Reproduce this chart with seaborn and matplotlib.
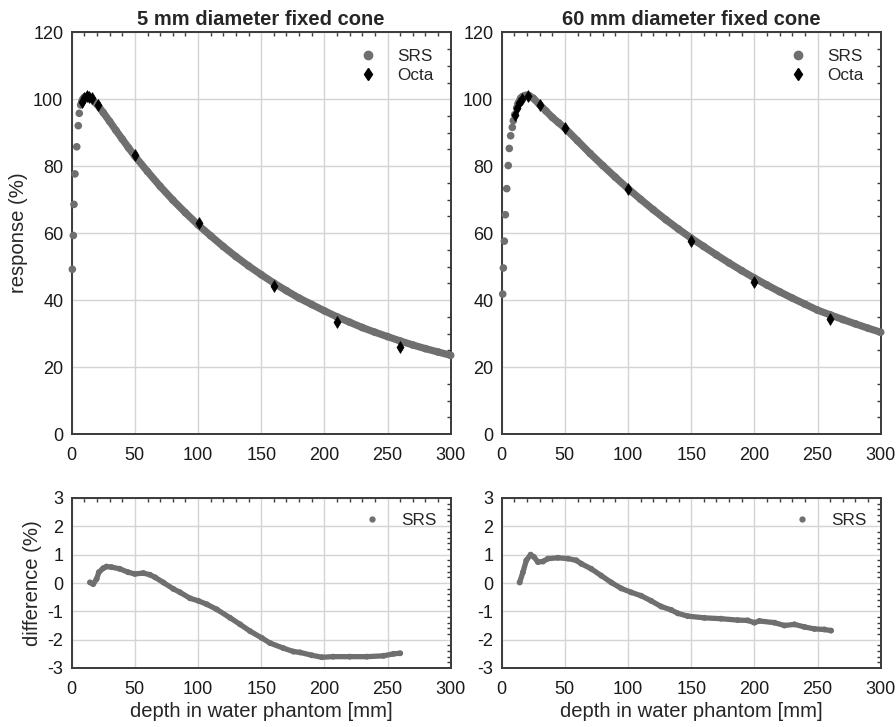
import matplotlib
matplotlib.use("Agg")
import matplotlib.pyplot as plt
from matplotlib.lines import Line2D
from matplotlib.ticker import MultipleLocator
import numpy as np
import pandas as pd
import seaborn as sns

# ---------------- data ----------------
srs5_depth = [0.5, 1.3, 1.8, 2.6, 4.0, 5.2, 6.0, 7.1, 8, 9, 10, 12, 14, 16, 18, 20,
              25, 30, 35, 40, 45, 50, 60, 70, 80, 90, 100, 110, 120, 130, 140, 150,
              160, 170, 180, 190, 200, 210, 220, 230, 240, 250, 260, 270, 280, 290, 300]
srs5_resp = [49.2, 59.3, 68.6, 77.7, 85.8, 92.1, 95.8, 98.3, 99.3, 100.1, 100.6, 100.9,
             100.6, 100.0, 99.2, 98.5, 96.0, 93.4, 90.7, 88.1, 85.5, 83.0, 78.4, 74.0,
             69.9, 66.1, 62.5, 59.2, 56.0, 53.0, 50.2, 47.6, 45.1, 42.8, 40.6, 38.7,
             36.8, 35.0, 33.4, 31.8, 30.4, 29.1, 27.8, 26.6, 25.5, 24.5, 23.5]
octa5_depth = [8, 10, 12, 14, 16, 21, 50, 101, 160, 210, 260]
octa5_resp = [99.3, 100.5, 101.0, 100.8, 100.3, 98.2, 83.3, 62.9, 44.3, 33.4, 26.0]

srs60_depth = [0.8, 1.3, 2.1, 2.9, 4.0, 5.2, 6.0, 7.1, 8.4, 9.2, 10.3, 11.9, 13.1, 15,
               16.5, 18.4, 20, 22, 25, 30, 35, 40, 45, 50, 60, 70, 80, 90, 100, 110,
               120, 130, 140, 150, 160, 170, 180, 190, 200, 210, 220, 230, 240, 250,
               260, 270, 280, 290, 300]
srs60_resp = [41.8, 49.6, 57.6, 65.5, 73.3, 80.2, 85.3, 89.1, 91.6, 93.6, 95.4, 97.3,
              98.8, 100.3, 100.8, 101.1, 101.2, 101.0, 100.3, 98.4, 96.5, 94.6, 93.0,
              91.4, 87.6, 83.8, 80.2, 76.7, 73.3, 70.1, 67.0, 64.0, 61.2, 58.5, 56.0,
              53.5, 51.1, 48.8, 46.6, 44.5, 42.5, 40.6, 38.8, 37.0, 35.6, 34.2, 32.9,
              31.6, 30.4]
octa60_depth = [10.5, 12, 14, 16, 20.6, 30, 50, 100, 150, 200, 260]
octa60_resp = [95.3, 97.5, 99.0, 100.0, 101.0, 98.2, 91.4, 73.3, 57.6, 45.4, 34.3]

diff5_depth = [14.5, 17, 19.7, 21.5, 24.9, 27.6, 31.5, 38, 44.7, 50, 56.7, 62, 66, 72.5,
               80.5, 85.8, 93.7, 100.3, 106.9, 114.8, 125.4, 133.3, 141.2, 150.5, 157,
               167.6, 175.5, 180.8, 190, 198, 207, 220, 233.6, 246.8, 254.7, 260]
diff5_val = [0.02, -0.04, 0.14, 0.38, 0.52, 0.58, 0.56, 0.50, 0.38, 0.32, 0.35, 0.29,
             0.20, 0.02, -0.21, -0.33, -0.54, -0.63, -0.75, -0.93, -1.23, -1.46, -1.70,
             -1.94, -2.12, -2.30, -2.42, -2.45, -2.55, -2.62, -2.60, -2.60, -2.60,
             -2.57, -2.50, -2.48]

diff60_depth = [14.2, 16.8, 19.5, 22.9, 25.5, 28.7, 32.7, 36.6, 44.5, 52.5, 59, 63, 70.9,
                78.8, 86.7, 94.6, 102.5, 110.4, 118.3, 126.2, 134.1, 139.4, 147.3, 160.5,
                173.6, 186.8, 194.7, 200, 204, 215.9, 223.8, 231.7, 239.6, 247.5, 255.4,
                260.7]
diff60_val = [0.02, 0.38, 0.80, 1.00, 0.92, 0.74, 0.76, 0.86, 0.89, 0.86, 0.80, 0.68,
              0.50, 0.26, 0.02, -0.19, -0.33, -0.45, -0.63, -0.83, -0.95, -1.07, -1.17,
              -1.23, -1.26, -1.31, -1.32, -1.40, -1.34, -1.40, -1.50, -1.46, -1.55,
              -1.62, -1.64, -1.68]

titles = ["5 mm diameter fixed cone", "60 mm diameter fixed cone"]
x_ticks = [0, 50, 100, 150, 200, 250, 300]
resp_ticks = [0, 20, 40, 60, 80, 100, 120]
diff_ticks = [-3, -2, -1, 0, 1, 2, 3]

# ---------------- style ----------------
sns.set_theme(style="white")
plt.rcParams["font.family"] = ["Liberation Sans", "DejaVu Sans"]
plt.rcParams["axes.unicode_minus"] = False

SRS_C = "#6f6f6f"
SPINE_C = "#3a3a3a"
GRID_C = "#d4d4d4"
LEG_FS = 12.3
LAB_FS = 14.6

fig = plt.figure(figsize=(8.96, 7.27), dpi=100)
W, H = 896.0, 727.0
lefts = [71.7, 501.7]
axw = 379.0
top_axes = [fig.add_axes([l / W, 1 - 434 / H, axw / W, (434 - 32.3) / H]) for l in lefts]
bot_axes = [fig.add_axes([l / W, 1 - 668 / H, axw / W, 170 / H]) for l in lefts]

srs_sets = [(srs5_depth, srs5_resp, 8), (srs60_depth, srs60_resp, 11)]
octa_sets = [(octa5_depth, octa5_resp), (octa60_depth, octa60_resp)]
diff_sets = [(diff5_depth, diff5_val), (diff60_depth, diff60_val)]


def style_axes(ax, yticks, yminor):
    ax.set_xlim(0, 300)
    ax.set_ylim(yticks[0], yticks[-1])
    ax.set_xticks(x_ticks)
    ax.set_yticks(yticks)
    ax.xaxis.set_minor_locator(MultipleLocator(10))
    ax.yaxis.set_minor_locator(MultipleLocator(yminor))
    ax.grid(True, which="major", color=GRID_C, linewidth=1.0)
    ax.set_axisbelow(True)
    for s in ax.spines.values():
        s.set_color(SPINE_C)
        s.set_linewidth(1.4)
        s.set_visible(True)
    ax.tick_params(which="both", direction="in", top=True, right=True,
                   color=SPINE_C)
    ax.tick_params(which="major", length=0, labelsize=13, labelcolor="#1a1a1a")
    ax.tick_params(axis="x", which="major", pad=9)
    ax.tick_params(axis="y", which="major", pad=6)
    ax.tick_params(which="minor", length=3, width=1.0)


for i in range(2):
    ax = top_axes[i]
    d, r, cut = srs_sets[i]
    df = pd.DataFrame({"depth": d, "resp": r})
    line_df = df[df["depth"] >= cut]
    sns.lineplot(data=line_df, x="depth", y="resp", ax=ax, color=SRS_C,
                 linewidth=5.2, sort=True, estimator=None, zorder=2,
                 solid_capstyle="round")
    sns.scatterplot(data=df, x="depth", y="resp", ax=ax, color=SRS_C, s=30,
                    edgecolor="none", zorder=3, clip_on=False)
    od, orr = octa_sets[i]
    sns.scatterplot(x=od, y=orr, ax=ax, color="black", marker="d", s=36,
                    edgecolor="black", linewidth=0.5, zorder=4)
    style_axes(ax, resp_ticks, 5)
    ax.set_title(titles[i], fontsize=14.5, fontweight="bold", pad=5)
    ax.set_xlabel("")
    ax.set_ylabel("")
    handles = [Line2D([], [], ls="none", marker="o", color=SRS_C, markersize=6),
               Line2D([], [], ls="none", marker="d", color="black", markersize=6.5)]
    ax.legend(handles, ["SRS", "Octa"], loc="upper right", frameon=False,
              fontsize=LEG_FS, handlelength=1.0, handletextpad=1.2,
              borderaxespad=0.6, labelspacing=0.2)

    bx = bot_axes[i]
    dd, dv = diff_sets[i]
    ddf = pd.DataFrame({"depth": dd, "diff": dv})
    sns.lineplot(data=ddf, x="depth", y="diff", ax=bx, color=SRS_C, linewidth=3.8,
                 estimator=None, zorder=2, solid_capstyle="round")
    sns.scatterplot(data=ddf, x="depth", y="diff", ax=bx, color=SRS_C, s=18,
                    edgecolor="none", zorder=3)
    style_axes(bx, diff_ticks, 0.2)
    bx.set_xlabel("depth in water phantom [mm]", fontsize=LAB_FS, labelpad=3)
    bx.set_ylabel("")
    bx.legend([Line2D([], [], ls="none", marker="o", color=SRS_C, markersize=3.5)],
              ["SRS"], loc="upper right", frameon=False, fontsize=LEG_FS,
              handlelength=1.0, handletextpad=1.2, borderaxespad=0.45)

top_axes[0].set_ylabel("response (%)", fontsize=LAB_FS, labelpad=4)
bot_axes[0].set_ylabel("difference (%)", fontsize=LAB_FS, labelpad=4)

fig.savefig("out.png", dpi=100)
